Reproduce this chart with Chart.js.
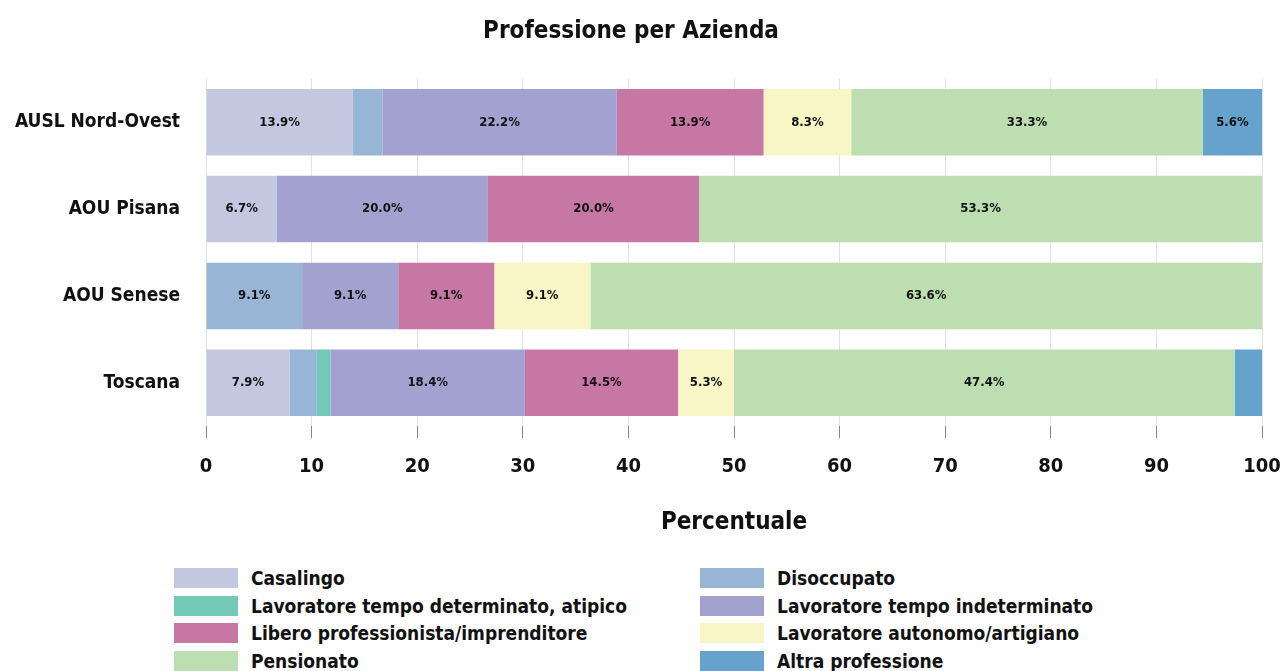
<!DOCTYPE html>
<html>
<head>
<meta charset="utf-8">
<script src="https://cdn.jsdelivr.net/npm/chart.js@4.4.1/dist/chart.umd.min.js"></script>
<style>
  body { margin: 0; background: #fff; font-family: "DejaVu Sans Condensed", sans-serif; }
  #wrap { position: relative; width: 1281px; height: 541px; }
  #legend {
    display: grid; grid-template-columns: 526px 526px;
    margin-left: 174px; margin-top: 26px; row-gap: 5.5px;
  }
  .item { display: flex; align-items: center; font-weight: bold; font-size: 19px; height: 22px; color: #111; }
  .box { width: 64px; height: 20px; margin-right: 13px; }
</style>
</head>
<body>
<div id="wrap"><canvas id="chart" width="1281" height="541"></canvas></div>
<div id="legend"></div>
<script>
const FONT = '"DejaVu Sans Condensed", sans-serif';

const aziende = ['AUSL Nord-Ovest', 'AOU Pisana', 'AOU Senese', 'Toscana'];
const xTicks = [0, 10, 20, 30, 40, 50, 60, 70, 80, 90, 100];

const professioni = [
    'Casalingo',
    'Disoccupato',
    'Lavoratore tempo determinato, atipico',
    'Lavoratore tempo indeterminato',
    'Libero professionista/imprenditore',
    'Lavoratore autonomo/artigiano',
    'Pensionato',
    'Altra professione'
];
const colori = ['#c3c7df', '#98b5d6', '#74c9b6', '#a3a1d0', '#c677a4', '#f8f6c6', '#bddeb1', '#65a3cc'];

const casalingo = [13.9, 6.7, 0, 7.9];
const disoccupato = [2.8, 0, 9.1, 2.6];
const determinato = [0, 0, 0, 1.3];
const indeterminato = [22.2, 20.0, 9.1, 18.4];
const libero = [13.9, 20.0, 9.1, 14.5];
const autonomo = [8.3, 0, 9.1, 5.3];
const pensionato = [33.3, 53.3, 63.6, 47.4];
const altra = [5.6, 0, 0, 2.6];

const serie = [casalingo, disoccupato, determinato, indeterminato, libero, autonomo, pensionato, altra];

// labels inside the bars, only when the segment is wide enough
const barLabels = {
    id: 'barLabels',
    afterDatasetsDraw(chart) {
        const ctx = chart.ctx;
        ctx.save();
        ctx.font = 'bold 13px ' + FONT;
        ctx.fillStyle = '#111';
        ctx.textAlign = 'center';
        ctx.textBaseline = 'middle';
        chart.data.datasets.forEach((ds, i) => {
            const meta = chart.getDatasetMeta(i);
            meta.data.forEach((bar, j) => {
                const v = ds.data[j];
                if (v < 4) return;
                const cx = (bar.x + bar.base) / 2;
                ctx.fillText(v.toFixed(1) + '%', cx, bar.y);
            });
        });
        ctx.restore();
    }
};

const ctx = document.getElementById('chart').getContext('2d');
const chart = new Chart(ctx, {
    type: 'bar',
    data: {
        labels: aziende,
        datasets: serie.map((d, i) => ({
            label: professioni[i],
            data: d,
            backgroundColor: colori[i],
            borderWidth: 0,
            barPercentage: 0.765,
            categoryPercentage: 1
        }))
    },
    options: {
        indexAxis: 'y',
        responsive: false,
        animation: false,
        layout: { padding: { left: 0, right: 19, top: 10, bottom: 0 } },
        plugins: {
            legend: { display: false },
            tooltip: { enabled: false },
            title: {
                display: true,
                text: 'Professione per Azienda',
                font: { family: FONT, size: 24, weight: 'bold' },
                color: '#111',
                padding: { top: 7, bottom: 33 }
            }
        },
        scales: {
            x: {
                stacked: true,
                min: 0,
                max: 100,
                afterBuildTicks(axis) { axis.ticks = xTicks.map(v => ({ value: v })); },
                afterFit(axis) { axis.paddingLeft = 0; axis.paddingRight = 0; },
                grid: { color: '#e2e2e2', tickColor: '#888', tickLength: 12, drawOnChartArea: true },
                border: { display: false },
                ticks: { font: { family: FONT, size: 20, weight: 'bold' }, color: '#111', padding: 17 },
                title: {
                    display: true,
                    text: 'Percentuale',
                    font: { family: FONT, size: 24, weight: 'bold' },
                    color: '#111',
                    padding: { top: 12 }
                }
            },
            y: {
                stacked: true,
                afterFit(axis) { axis.width = 206; axis.paddingTop = 0; axis.paddingBottom = 0; },
                grid: { display: false },
                border: { display: false },
                ticks: { font: { family: FONT, size: 19, weight: 'bold' }, color: '#111', padding: 18 }
            }
        }
    },
    plugins: [barLabels]
});

const legend = document.getElementById('legend');
professioni.forEach((p, i) => {
    const el = document.createElement('div');
    el.className = 'item';
    el.innerHTML = '<span class="box" style="background:' + colori[i] + '"></span>' + p;
    legend.appendChild(el);
});
</script>
</body>
</html>
